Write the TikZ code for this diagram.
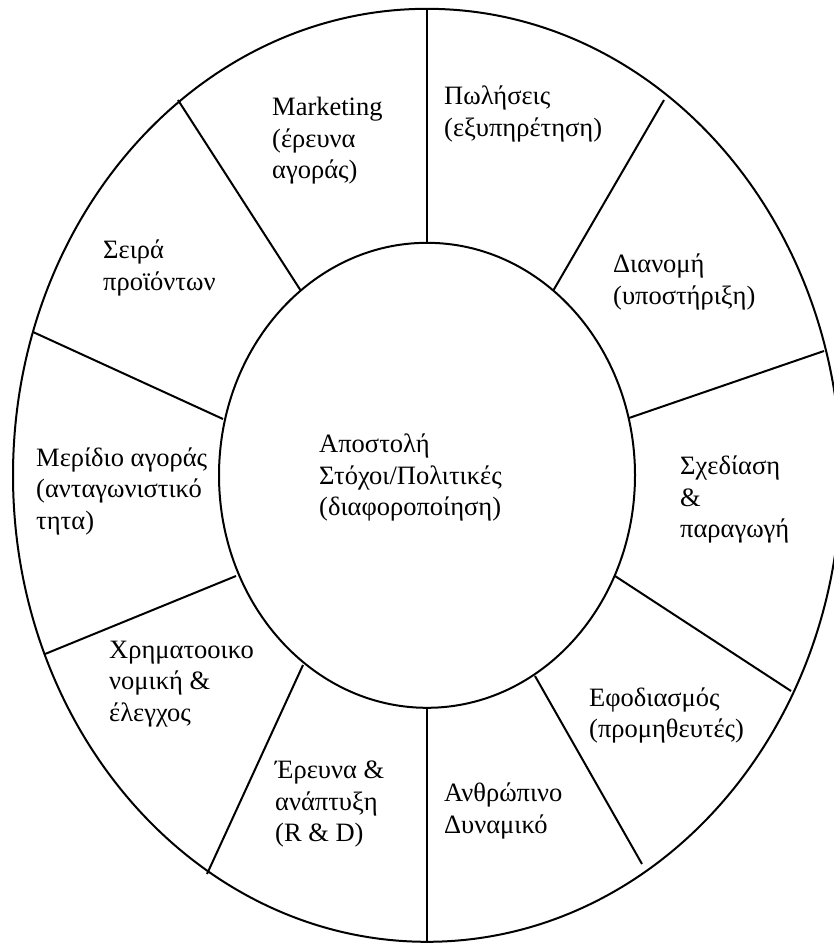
\documentclass[tikz,border=0pt]{standalone}
\usepackage{fontspec}
\setmainfont{Liberation Serif}
\begin{document}
\begin{tikzpicture}[x=1pt,y=-1pt,
  ring/.style={line width=2pt,draw=black},
  spoke/.style={line width=2pt,draw=black},
  lbl/.style={anchor=north west,inner sep=0pt,align=left,
    font=\fontsize{26.5}{31.5}\selectfont,execute at begin node=\strut}]
\useasboundingbox (0,0) rectangle (834,943);
\clip (0,0) rectangle (834,943);

% wheel centre
\coordinate (c) at (427,475.3);

% outer rim and hub
\draw[ring] (c) ellipse [x radius=414, y radius=466.5];
\draw[ring] (c) ellipse [x radius=208, y radius=232.5];

% spoke end points: i = on the hub, o = on the rim
\coordinate (i1)  at (427,242.8); \coordinate (o1)  at (427,9);
\coordinate (i2)  at (553,291);   \coordinate (o2)  at (664,100);
\coordinate (i3)  at (629,418);   \coordinate (o3)  at (824,351);
\coordinate (i4)  at (615,576);   \coordinate (o4)  at (791,691);
\coordinate (i5)  at (535,676);   \coordinate (o5)  at (642,864);
\coordinate (i6)  at (427,707.8); \coordinate (o6)  at (427,941);
\coordinate (i7)  at (303,665);   \coordinate (o7)  at (207,874);
\coordinate (i8)  at (236,576);   \coordinate (o8)  at (45,654);
\coordinate (i9)  at (223,419);   \coordinate (o9)  at (33,332);
\coordinate (i10) at (301,291);   \coordinate (o10) at (178,100);

\foreach \k in {1,...,10} \draw[spoke] (i\k) -- (o\k);

% segment labels
\node[lbl] (mkt)  at (272,97)    {Marketing\\(έρευνα\\αγοράς)};
\node[lbl] (sal)  at (444,86)    {Πωλήσεις\\(εξυπηρέτηση)};
\node[lbl] (prod) at (103,240)   {Σειρά\\προϊόντων};
\node[lbl] (dist) at (613,254)   {Διανομή\\(υποστήριξη)};
\node[lbl] (core) at (319,434)   {Αποστολή\\Στόχοι/Πολιτικές\\(διαφοροποίηση)};
\node[lbl] (shr)  at (36,447.5)  {Μερίδιο αγοράς\\(ανταγωνιστικό\\τητα)};
\node[lbl] (des)  at (680,456)   {Σχεδίαση\\\&\\παραγωγή};
\node[lbl] (fin)  at (109,640.5) {Χρηματοοικο\\νομική \&\\έλεγχος};
\node[lbl] (sup)  at (589,687.5) {Εφοδιασμός\\(προμηθευτές)};
\node[lbl] (rnd)  at (275,761)   {Έρευνα \&\\ανάπτυξη\\(R \& D)};
\node[lbl] (hr)   at (444,783)   {Ανθρώπινο\\Δυναμικό};
\end{tikzpicture}
\end{document}
